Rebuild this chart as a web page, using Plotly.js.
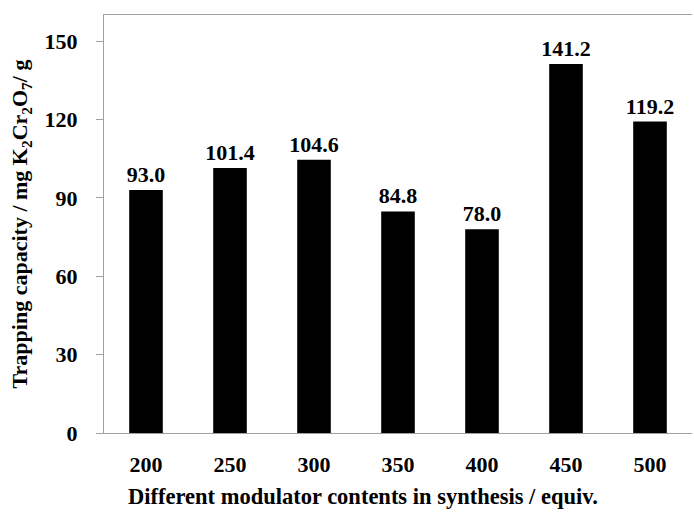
<!DOCTYPE html>
<html>
<head>
<meta charset="utf-8">
<script src="https://cdn.plot.ly/plotly-3.0.1.min.js"></script>
<style>html,body{margin:0;padding:0;background:#fff;}#chart{width:694px;height:512px;}</style>
</head>
<body>
<div id="chart"></div>
<script>
const categories = ["200", "250", "300", "350", "400", "450", "500"];
const capacity = [93.0, 101.4, 104.6, 84.8, 78.0, 141.2, 119.2];
const yTicks = [0, 30, 60, 90, 120, 150];
const xTitle = "Different modulator contents in synthesis / equiv.";
const yTitle = "Trapping capacity / mg K<sub>2</sub>Cr<sub>2</sub>O<sub>7</sub>/ g";

const fam = "Liberation Serif, Times New Roman, serif";
const boldFont = {family: fam, size: 22, color: "#000", weight: "bold"};

const trace = {
  type: "bar",
  x: categories,
  y: capacity,
  marker: {color: "#000"},
  text: capacity.map(v => v.toFixed(1)),
  textposition: "outside",
  constraintext: "none",
  textfont: boldFont,
  cliponaxis: false,
  hoverinfo: "none"
};

const layout = {
  width: 694, height: 512,
  margin: {l: 104, r: 2, t: 15, b: 79},
  paper_bgcolor: "#fff", plot_bgcolor: "#fff",
  font: {family: fam, size: 22, color: "#000"},
  bargap: 0.6,
  showlegend: false,
  xaxis: {
    type: "category",
    range: [-0.5, 6.5],
    showline: true, linecolor: "#a0a0a0", linewidth: 1,
    mirror: true,
    ticks: "", showgrid: false, zeroline: false,
    ticklabelstandoff: 12,
    tickfont: boldFont
  },
  yaxis: {
    range: [0, 160],
    tickvals: yTicks,
    showline: true, linecolor: "#a0a0a0", linewidth: 1,
    ticks: "outside", ticklen: 7, tickcolor: "#a0a0a0",
    showgrid: false, zeroline: false,
    ticklabelstandoff: 14,
    tickfont: boldFont,
    title: {text: yTitle, standoff: 10, font: boldFont}
  },
  annotations: [{
    text: xTitle, xref: "paper", yref: "paper",
    x: 0.4405, y: -0.153, xanchor: "center", yanchor: "middle",
    showarrow: false, font: {family: fam, size: 22.5, color: "#000", weight: "bold"}
  }]
};

Plotly.newPlot("chart", [trace], layout, {staticPlot: true, displayModeBar: false});
</script>
</body>
</html>
